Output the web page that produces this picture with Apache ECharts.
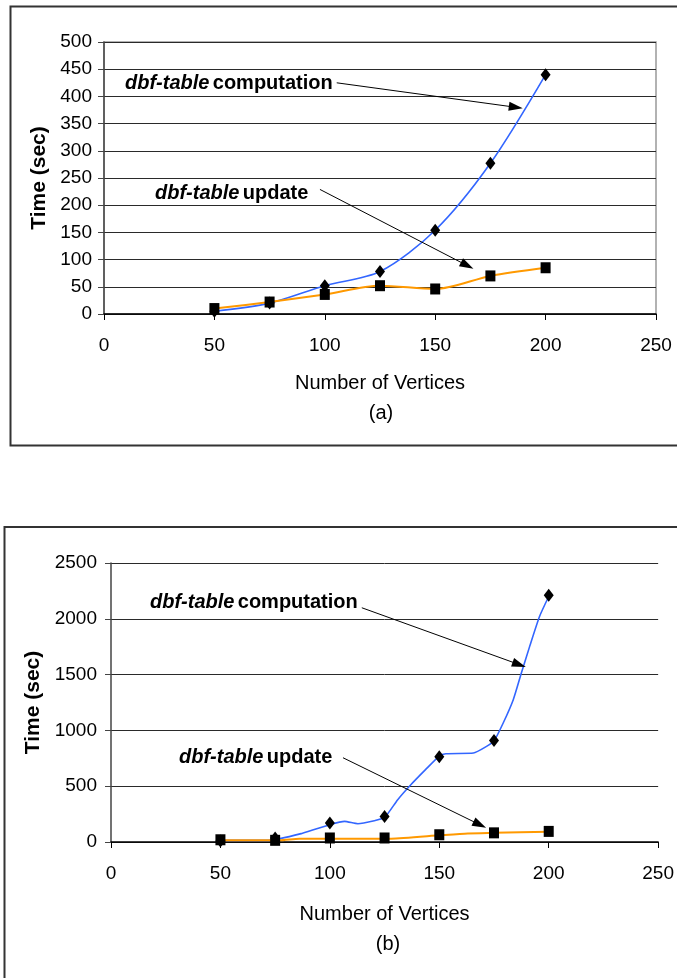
<!DOCTYPE html>
<html>
<head>
<meta charset="utf-8">
<script src="https://cdn.jsdelivr.net/npm/echarts@6/dist/echarts.min.js"></script>
<style>
html,body{margin:0;padding:0;background:#fff;}
#c{width:677px;height:978px;}
</style>
</head>
<body>
<div id="c"></div>
<script>
// ---- data ----
const xTicks = [0, 50, 100, 150, 200, 250];
const vertices = [50, 75, 100, 125, 150, 175, 200];
// chart (a) markers
const compA = [5, 20, 52, 78, 154, 277, 440];
const updA  = [10, 22, 36, 52, 46, 70, 85];
// chart (b) markers
const compB = [10, 36, 170, 229, 765, 910, 2210];
const updB  = [20, 15, 36, 36, 65, 82, 95];
// chart (b) drawn curves
const compBLineX = [50, 72, 87.5, 100, 106.7, 112.8, 120.3, 125, 131, 137, 143.7, 150, 153, 165.6, 171.6, 175, 179.2, 183.8, 187.5, 191.3, 195.8, 200];
const compBLineY = [15, 15, 78, 155, 185, 164, 191, 220, 379, 513, 648, 770, 791, 797, 857, 905, 1066, 1275, 1514, 1753, 2021, 2200];
const updBLineX = [50, 77, 86, 128, 150, 163, 175, 200];
const updBLineY = [15, 15, 30, 30, 60, 77, 82, 92];

const FONT = "'Liberation Sans', Arial, Helvetica, sans-serif";
const BLUE = '#3366ff';
const ORANGE = '#ff9900';

function pairs(xs, ys) { return xs.map((x, i) => [x, ys[i]]); }

const chart = echarts.init(document.getElementById('c'), null, {renderer: 'canvas'});

function xAxis(gridIndex, nameGap) {
  return {
    type: 'value', gridIndex, min: 0, max: 250, interval: 50,
    name: 'Number of Vertices', nameLocation: 'middle', nameGap,
    nameTextStyle: {fontFamily: FONT, fontSize: 20, color: '#000'},
    axisLine: {show: true, onZero: false, lineStyle: {color: '#000', width: 1.5}},
    axisTick: {show: true, length: 6, lineStyle: {color: '#000'}},
    axisLabel: {fontFamily: FONT, fontSize: 19, color: '#000', margin: 22, formatter: v => String(v)},
    splitLine: {show: false}
  };
}
function yAxis(gridIndex, max, interval, nameGap, margin) {
  return {
    type: 'value', gridIndex, min: 0, max, interval,
    name: 'Time (sec)', nameLocation: 'middle', nameGap, nameRotate: 90,
    nameTextStyle: {fontFamily: FONT, fontSize: 21, fontWeight: 'bold', color: '#000'},
    axisLine: {show: true, lineStyle: {color: '#444', width: 1.5}},
    axisTick: {show: true, length: 6, lineStyle: {color: '#444'}},
    axisLabel: {fontFamily: FONT, fontSize: 19, color: '#000', margin, formatter: v => String(v)},
    splitLine: {show: true, lineStyle: {color: '#2a2a2a', width: 1}}
  };
}
function arrow(from, to) {
  return [{coord: from}, {coord: to}];
}
const markLineStyle = {
  silent: true, symbol: ['none', 'triangle'], symbolSize: [9, 14],
  lineStyle: {color: '#000', width: 1, type: 'solid'},
  label: {show: false}, emphasis: {disabled: true}, animation: false
};
const markerStyle = {color: '#000', opacity: 1};

const option = {
  animation: false,
  backgroundColor: '#fff',
  grid: [
    {left: 104, right: 21, top: 42, height: 272, show: true, borderColor: '#999', borderWidth: 1.5, backgroundColor: 'transparent'},
    {left: 111, right: 14, top: 563, height: 279}
  ],
  xAxis: [xAxis(0, 59), xAxis(1, 62)],
  yAxis: [yAxis(0, 500, 50, 47, 12), yAxis(1, 2500, 500, 56, 14)],
  series: [
    {
      type: 'line', xAxisIndex: 0, yAxisIndex: 0, data: pairs(vertices, compA),
      smooth: 0.3, showSymbol: false, lineStyle: {color: BLUE, width: 1.6}, z: 2,
      markLine: Object.assign({data: [arrow([105.4, 425], [186.5, 380]), arrow([97.8, 229], [164.5, 89])]}, markLineStyle)
    },
    {
      type: 'line', xAxisIndex: 0, yAxisIndex: 0, data: pairs(vertices, updA),
      smooth: 0.3, showSymbol: false, lineStyle: {color: ORANGE, width: 2}, z: 2
    },
    {
      type: 'scatter', xAxisIndex: 0, yAxisIndex: 0, data: pairs(vertices, compA),
      symbol: 'diamond', symbolSize: [10, 13], itemStyle: markerStyle, z: 3
    },
    {
      type: 'scatter', xAxisIndex: 0, yAxisIndex: 0, data: pairs(vertices, updA),
      symbol: 'rect', symbolSize: [10, 11], itemStyle: markerStyle, z: 4
    },
    {
      type: 'line', xAxisIndex: 1, yAxisIndex: 1, data: pairs(compBLineX, compBLineY),
      smooth: 0.2, showSymbol: false, lineStyle: {color: BLUE, width: 1.6}, z: 2,
      markLine: Object.assign({data: [arrow([114.6, 2099], [186.5, 1590]), arrow([106, 755], [168.5, 155])]}, markLineStyle)
    },
    {
      type: 'line', xAxisIndex: 1, yAxisIndex: 1, data: pairs(updBLineX, updBLineY),
      smooth: 0.2, showSymbol: false, lineStyle: {color: ORANGE, width: 2}, z: 2
    },
    {
      type: 'scatter', xAxisIndex: 1, yAxisIndex: 1, data: pairs(vertices, compB),
      symbol: 'diamond', symbolSize: [10, 13], itemStyle: markerStyle, z: 3
    },
    {
      type: 'scatter', xAxisIndex: 1, yAxisIndex: 1, data: pairs(vertices, updB),
      symbol: 'rect', symbolSize: [10, 11], itemStyle: markerStyle, z: 4
    }
  ],
  graphic: [
    {type: 'rect', silent: true, z: 0, shape: {x: 10.5, y: 6.5, width: 720, height: 439}, style: {fill: 'none', stroke: '#333', lineWidth: 2}},
    {type: 'rect', silent: true, z: 0, shape: {x: 4.5, y: 527, width: 720, height: 480}, style: {fill: 'none', stroke: '#333', lineWidth: 2}},
    {type: 'text', silent: true, x: 381, y: 413, style: {text: '(a)', font: '20px ' + FONT, fill: '#000', align: 'center', verticalAlign: 'middle'}},
    {type: 'text', silent: true, x: 388, y: 944, style: {text: '(b)', font: '20px ' + FONT, fill: '#000', align: 'center', verticalAlign: 'middle'}},
    {type: 'text', silent: true, x: 125, y: 83, style: {text: '{i|dbf-table} {n|computation}', verticalAlign: 'middle', rich: {i: {fontFamily: FONT, fontSize: 20, fontStyle: 'italic', fontWeight: 'bold', fill: '#000'}, n: {fontFamily: FONT, fontSize: 20, fontWeight: 'bold', fill: '#000'}}}},
    {type: 'text', silent: true, x: 155, y: 193, style: {text: '{i|dbf-table} {n|update}', verticalAlign: 'middle', rich: {i: {fontFamily: FONT, fontSize: 20, fontStyle: 'italic', fontWeight: 'bold', fill: '#000'}, n: {fontFamily: FONT, fontSize: 20, fontWeight: 'bold', fill: '#000'}}}},
    {type: 'text', silent: true, x: 150, y: 602, style: {text: '{i|dbf-table} {n|computation}', verticalAlign: 'middle', rich: {i: {fontFamily: FONT, fontSize: 20, fontStyle: 'italic', fontWeight: 'bold', fill: '#000'}, n: {fontFamily: FONT, fontSize: 20, fontWeight: 'bold', fill: '#000'}}}},
    {type: 'text', silent: true, x: 179, y: 757, style: {text: '{i|dbf-table} {n|update}', verticalAlign: 'middle', rich: {i: {fontFamily: FONT, fontSize: 20, fontStyle: 'italic', fontWeight: 'bold', fill: '#000'}, n: {fontFamily: FONT, fontSize: 20, fontWeight: 'bold', fill: '#000'}}}}
  ]
};
chart.setOption(option);
</script>
</body>
</html>
